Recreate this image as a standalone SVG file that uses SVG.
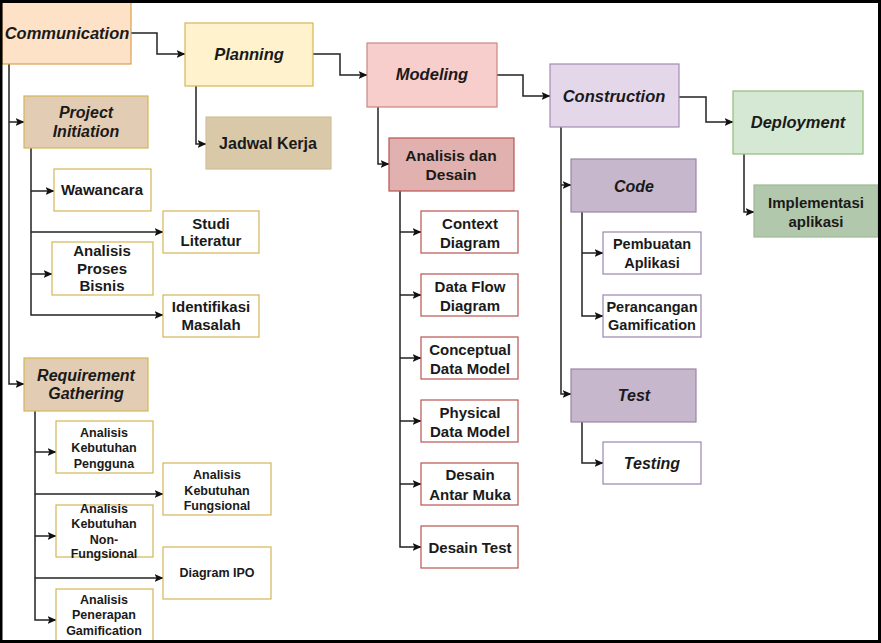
<svg xmlns="http://www.w3.org/2000/svg" width="881" height="643" viewBox="0 0 881 643">
<defs>
<marker id="arr" markerWidth="9" markerHeight="8" refX="8.5" refY="4" orient="auto" markerUnits="userSpaceOnUse">
<path d="M0,0 L9,4 L0,8 L2,4 Z" fill="#111"/>
</marker>
<style>
text{font-family:"Liberation Sans",Arial,sans-serif;font-weight:bold;fill:#1a1a1a;text-anchor:middle}
.h{font-style:italic;font-size:16.5px}
.hi{font-style:italic;font-size:16px}
.m{font-size:15px}
.s{font-size:15px}
.xs{font-size:12.5px}
.c{stroke:#222;stroke-width:1.5;fill:none;marker-end:url(#arr)}
rect{stroke-width:1.2}
.or{fill:#fde2c8;stroke:#d9a150}
.ye{fill:#fff2cc;stroke:#d6b656}
.tan{fill:#e2cdb4;stroke:#d6b656}
.tan2{fill:#d9c9a8;stroke:#d0c09a}
.wy{fill:#fff;stroke:#d6b656}
.pk{fill:#f8cecc;stroke:#c98683}
.pk2{fill:#e0b1ae;stroke:#b85450}
.wp{fill:#fff;stroke:#b85450}
.pu{fill:#e4d7ea;stroke:#a58bb3}
.pu2{fill:#c7b7cd;stroke:#9a85a3}
.wu{fill:#fff;stroke:#9a85b0}
.gr{fill:#d5e8d4;stroke:#93bb7c}
.gr2{fill:#b1c8ac;stroke:#9db895}
</style>
</defs>
<rect x="0" y="0" width="881" height="643" fill="#fff" stroke="none"/>
<g id="connectors">
<path class="c" d="M131,33 H157 V54 H185"/>
<path class="c" d="M313,54 H340 V75 H367"/>
<path class="c" d="M497,75 H523 V96 H550"/>
<path class="c" d="M679,97 H706 V122 H733"/>
<path class="c" d="M9,64 V384 H24"/>
<path class="c" d="M9,122 H24"/>
<path class="c" d="M196,86 V144 H206"/>
<path class="c" d="M31,148 V315 H163"/>
<path class="c" d="M31,191 H54"/>
<path class="c" d="M31,232 H163"/>
<path class="c" d="M31,274 H52"/>
<path class="c" d="M35,411 V620 H56"/>
<path class="c" d="M35,452 H56"/>
<path class="c" d="M35,494 H163"/>
<path class="c" d="M35,536 H56"/>
<path class="c" d="M35,578 H163"/>
<path class="c" d="M378,107 V164 H389"/>
<path class="c" d="M400,191 V547 H421"/>
<path class="c" d="M400,232 H421"/>
<path class="c" d="M400,295 H421"/>
<path class="c" d="M400,358 H421"/>
<path class="c" d="M400,421 H421"/>
<path class="c" d="M400,484 H421"/>
<path class="c" d="M561,127 V394 H571"/>
<path class="c" d="M561,185 H571"/>
<path class="c" d="M582,212 V316 H603"/>
<path class="c" d="M582,253 H603"/>
<path class="c" d="M582,422 V463 H603"/>
<path class="c" d="M744,154 V212 H754"/>
</g>
<g id="communication"><rect class="or" x="2" y="2" width="129" height="62"/><text class="h" x="67" y="39">Communication</text></g>
<g id="planning"><rect class="ye" x="185" y="23" width="128" height="63"/><text class="h" x="249" y="60">Planning</text></g>
<g id="modeling"><rect class="pk" x="367" y="43" width="130" height="64"/><text class="h" x="432" y="80">Modeling</text></g>
<g id="construction"><rect class="pu" x="550" y="64" width="129" height="63"/><text class="h" x="614" y="102">Construction</text></g>
<g id="deployment"><rect class="gr" x="733" y="91" width="130" height="63"/><text class="h" x="798" y="128">Deployment</text></g>
<g id="project-initiation"><rect class="tan" x="24" y="96" width="124" height="52"/><text class="hi" x="86" y="118">Project</text><text class="hi" x="86" y="137">Initiation</text></g>
<g id="requirement-gathering"><rect class="tan" x="24" y="358" width="124" height="53"/><text class="hi" x="86" y="381">Requirement</text><text class="hi" x="86" y="399">Gathering</text></g>
<g id="jadwal-kerja"><rect class="tan2" x="206" y="117" width="125" height="52"/><text class="m" style="font-size:16px" x="268" y="149">Jadwal Kerja</text></g>
<g id="wawancara"><rect class="wy" x="54" y="169" width="97" height="42"/><text class="s" x="102" y="195">Wawancara</text></g>
<g id="studi-literatur"><rect class="wy" x="163" y="211" width="96" height="42"/><text class="s" x="211" y="229">Studi</text><text class="s" x="211" y="246">Literatur</text></g>
<g id="analisis-proses-bisnis"><rect class="wy" x="52" y="242" width="101" height="53"/><text class="s" x="102" y="256">Analisis</text><text class="s" x="102" y="274">Proses</text><text class="s" x="102" y="291">Bisnis</text></g>
<g id="identifikasi-masalah"><rect class="wy" x="163" y="295" width="96" height="42"/><text class="s" x="211" y="312">Identifikasi</text><text class="s" x="211" y="330">Masalah</text></g>
<g id="akp"><rect class="wy" x="56" y="421" width="97" height="52"/><text class="xs" x="104" y="436.5">Analisis</text><text class="xs" x="104" y="451.5">Kebutuhan</text><text class="xs" x="104" y="467.5">Pengguna</text></g>
<g id="akf"><rect class="wy" x="163" y="463" width="108" height="52"/><text class="xs" x="217" y="478.5">Analisis</text><text class="xs" x="217" y="494.5">Kebutuhan</text><text class="xs" x="217" y="509.5">Fungsional</text></g>
<g id="aknf"><rect class="wy" x="56" y="505" width="97" height="52"/><text class="xs" x="104" y="512.5">Analisis</text><text class="xs" x="104" y="528">Kebutuhan</text><text class="xs" x="104" y="543.5">Non-</text><text class="xs" x="104" y="558">Fungsional</text></g>
<g id="diagram-ipo"><rect class="wy" x="163" y="547" width="108" height="52"/><text class="xs" x="217" y="577">Diagram IPO</text></g>
<g id="apg"><rect class="wy" x="56" y="589" width="97" height="52"/><text class="xs" x="104" y="603.5">Analisis</text><text class="xs" x="104" y="618.5">Penerapan</text><text class="xs" x="104" y="634.5">Gamification</text></g>
<g id="analisis-desain"><rect class="pk2" x="389" y="138" width="125" height="53"/><text class="m" style="font-size:15.5px" x="451" y="160.5">Analisis dan</text><text class="m" style="font-size:15.5px" x="451" y="179.5">Desain</text></g>
<g id="context-diagram"><rect class="wp" x="421" y="211" width="97" height="42"/><text class="m" x="470" y="228.5">Context</text><text class="m" x="470" y="247.5">Diagram</text></g>
<g id="data-flow-diagram"><rect class="wp" x="421" y="274" width="97" height="42"/><text class="m" x="470" y="291.5">Data Flow</text><text class="m" x="470" y="310.5">Diagram</text></g>
<g id="conceptual-data-model"><rect class="wp" x="421" y="337" width="97" height="42"/><text class="m" x="470" y="354.5">Conceptual</text><text class="m" x="470" y="373.5">Data Model</text></g>
<g id="physical-data-model"><rect class="wp" x="421" y="400" width="97" height="42"/><text class="m" x="470" y="417.5">Physical</text><text class="m" x="470" y="436.5">Data Model</text></g>
<g id="desain-antar-muka"><rect class="wp" x="421" y="463" width="97" height="42"/><text class="m" x="470" y="479.5">Desain</text><text class="m" x="470" y="499.5">Antar Muka</text></g>
<g id="desain-test"><rect class="wp" x="421" y="526" width="97" height="42"/><text class="m" x="470" y="552.5">Desain Test</text></g>
<g id="code"><rect class="pu2" x="571" y="159" width="125" height="53"/><text class="hi" x="634" y="191.5">Code</text></g>
<g id="pembuatan-aplikasi"><rect class="wu" x="603" y="232" width="98" height="42"/><text class="s" style="font-size:14.5px" x="652" y="249">Pembuatan</text><text class="s" style="font-size:14.5px" x="652" y="268">Aplikasi</text></g>
<g id="perancangan-gamification"><rect class="wu" x="603" y="295" width="98" height="42"/><text class="s" style="font-size:14.5px" x="652" y="312">Perancangan</text><text class="s" style="font-size:14.5px" x="652" y="330">Gamification</text></g>
<g id="test"><rect class="pu2" x="571" y="369" width="125" height="53"/><text class="hi" x="634" y="401">Test</text></g>
<g id="testing"><rect class="wu" x="603" y="442" width="98" height="42"/><text class="hi" x="652" y="469">Testing</text></g>
<g id="implementasi-aplikasi"><rect class="gr2" x="754" y="185" width="124" height="52"/><text class="m" x="816" y="208">Implementasi</text><text class="m" x="816" y="227">aplikasi</text></g>
<path d="M1,1.5 H879.5 V641.5 H1 Z" fill="none" stroke="#000" stroke-width="3"/>
</svg>
